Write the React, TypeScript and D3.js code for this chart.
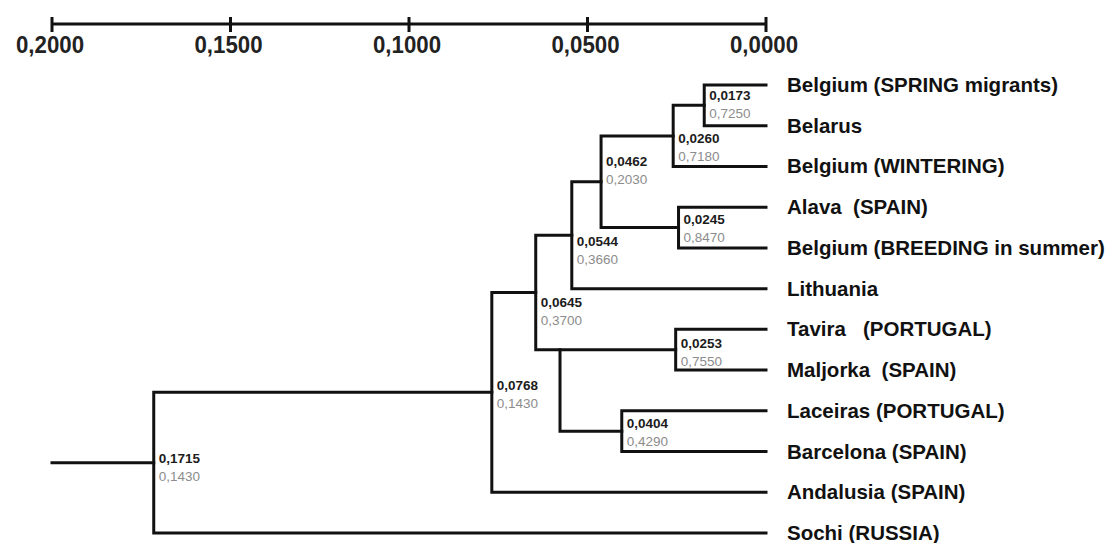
import React from "react";
import * as d3 from "d3";

// ---------- data ----------
const leafNames = [
  "Belgium (SPRING migrants)",
  "Belarus",
  "Belgium (WINTERING)",
  "Alava  (SPAIN)",
  "Belgium (BREEDING in summer)",
  "Lithuania",
  "Tavira   (PORTUGAL)",
  "Maljorka  (SPAIN)",
  "Laceiras (PORTUGAL)",
  "Barcelona (SPAIN)",
  "Andalusia (SPAIN)",
  "Sochi (RUSSIA)",
];

const clusterIds = ["n1715", "n0768", "n0645", "n0544", "n0462", "n0260", "n0173", "n0245", "n0577", "n0253", "n0404"];
const clusterHeights = [0.1715, 0.0768, 0.0645, 0.0544, 0.0462, 0.026, 0.0173, 0.0245, 0.0577, 0.0253, 0.0404];
const clusterSupport: (number | null)[] = [0.143, 0.143, 0.37, 0.366, 0.203, 0.718, 0.725, 0.847, null, 0.755, 0.429];
const clusterChildren = [
  ["n0768", "Sochi (RUSSIA)"],
  ["n0645", "Andalusia (SPAIN)"],
  ["n0544", "n0577"],
  ["n0462", "Lithuania"],
  ["n0260", "n0245"],
  ["n0173", "Belgium (WINTERING)"],
  ["Belgium (SPRING migrants)", "Belarus"],
  ["Alava  (SPAIN)", "Belgium (BREEDING in summer)"],
  ["n0253", "n0404"],
  ["Tavira   (PORTUGAL)", "Maljorka  (SPAIN)"],
  ["Laceiras (PORTUGAL)", "Barcelona (SPAIN)"],
];

const axisTicks = [0.2, 0.15, 0.1, 0.05, 0];

// ---------- layout tweaks (label placement) ----------
const labelNudge: Record<string, number> = {
  n0173: -5, n0260: 7, n0462: -15.5, n0245: -4, n0544: 11,
  n0645: 15, n0253: -2, n0404: -3, n0768: -2.5, n1715: 0,
};

type TNode = { id: string; height: number; support: number | null; children?: TNode[] };

function build(id: string): TNode {
  const i = clusterIds.indexOf(id);
  if (i < 0) return { id, height: 0, support: null };
  return {
    id,
    height: clusterHeights[i],
    support: clusterSupport[i],
    children: clusterChildren[i].map(build),
  };
}

const fmt = d3
  .formatLocale({ decimal: ",", thousands: ".", grouping: [3], currency: ["", ""] })
  .format(".4f");

export default function App() {
  const W = 1108, H = 543;
  const x = d3.scaleLinear().domain([0.2, 0]).range([52, 766]);
  const yLeaf = d3.scalePoint<string>().domain(leafNames).range([85, 533]);

  const root = d3.hierarchy<TNode>(build("n1715"));
  const ay = new Map<any, number>();
  const span = new Map<any, [number, number]>();
  root.eachAfter((n: any) => {
    if (!n.children) {
      ay.set(n, yLeaf(n.data.id)!);
    } else {
      const ys = n.children.map((c: any) => ay.get(c)!);
      const top = d3.min(ys)!, bot = d3.max(ys)!;
      span.set(n, [top, bot]);
      ay.set(n, n.data.support == null ? top : (top + bot) / 2);
    }
  });

  const paths: string[] = [];
  root.each((n: any) => {
    if (!n.children) return;
    const nx = x(n.data.height);
    const [t, b] = span.get(n)!;
    const p = d3.path();
    p.moveTo(nx, t);
    p.lineTo(nx, b);
    n.children.forEach((c: any) => {
      p.moveTo(nx, ay.get(c)!);
      p.lineTo(x(c.data.height), ay.get(c)!);
    });
    paths.push(p.toString());
  });
  const rootY = ay.get(root)!;
  const stub = d3.path();
  stub.moveTo(x(0.2), rootY);
  stub.lineTo(x(root.data.height), rootY);
  paths.push(stub.toString());

  const font = "Arial, 'Liberation Sans', sans-serif";
  const axisY = 24;

  return (
    <svg width={W} height={H} style={{ position: "absolute", left: 0, top: 0, background: "#fff" }}>
      <rect width={W} height={H} fill="#fff" />
      {/* axis */}
      <line x1={x(0.2)} x2={x(0)} y1={axisY} y2={axisY} stroke="#111" strokeWidth={3} />
      {axisTicks.map((t) => (
        <g key={t}>
          <line x1={x(t)} x2={x(t)} y1={axisY - 7} y2={axisY + 8} stroke="#111" strokeWidth={3} />
          <text
            x={x(t) - 2}
            y={axisY + 29}
            textAnchor="middle"
            fontFamily={font}
            fontSize={24}
            fontWeight="bold"
            fill="#222"
            textLength={68}
            lengthAdjust="spacingAndGlyphs"
          >
            {fmt(t)}
          </text>
        </g>
      ))}
      {/* branches */}
      {paths.map((d, i) => (
        <path key={i} d={d} fill="none" stroke="#111" strokeWidth={3} strokeLinecap="square" />
      ))}
      {/* node labels */}
      {root.descendants().filter((n: any) => n.children && n.data.support != null).map((n: any) => {
        const bx = x(n.data.height) + 5;
        const by = ay.get(n)! + (labelNudge[n.data.id] ?? -2);
        return (
          <g key={n.data.id} fontFamily={font} fontSize={13.5}>
            <text x={bx} y={by} fontWeight="bold" fill="#1c1c1c">{fmt(n.data.height)}</text>
            <text x={bx} y={by + 18} fill="#8c8c8c">{fmt(n.data.support)}</text>
          </g>
        );
      })}
      {/* leaf labels */}
      {root.leaves().map((n: any) => (
        <text
          key={n.data.id}
          x={787}
          y={ay.get(n)! + 7}
          fontFamily={font}
          fontSize={20.5}
          fontWeight="bold"
          fill="#111"
          style={{ whiteSpace: "pre" }}
        >
          {n.data.id}
        </text>
      ))}
    </svg>
  );
}
